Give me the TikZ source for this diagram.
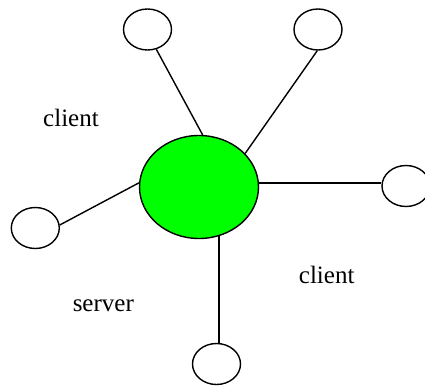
\documentclass[tikz,border=0pt]{standalone}
\usepackage{fontspec}
\setmainfont{Liberation Serif}
\newfontfamily\labelfont{Liberation Serif}
\usetikzlibrary{shapes.geometric}
\definecolor{netgreen}{RGB}{0,255,0}
\begin{document}
\begin{tikzpicture}[x=1pt,y=-1pt,
  host/.style={ellipse,draw=black,line width=1.4pt,inner sep=0pt,
    minimum width=48pt,minimum height=41pt,fill=white},
  hub/.style={ellipse,draw=black,line width=1.4pt,inner sep=0pt,
    minimum width=119pt,minimum height=103pt,fill=netgreen},
  link/.style={draw=black,line width=1.4pt},
  caption/.style={anchor=base,inner sep=0pt,font=\labelfont\fontsize{25}{29}\selectfont}]
  \fill[white] (0,0) rectangle (425,385);
  \useasboundingbox (0,0) rectangle (425,385);
  \clip (0,0) rectangle (425,385);

  % server in the middle, clients around it
  \node[hub]  (srv) at (199,187)   {};
  \node[host] (tl)  at (147.5,29.5) {};
  \node[host] (tr)  at (318,29.5)  {};
  \node[host] (rt)  at (406,186)   {};
  \node[host] (lf)  at (35.3,228)  {};
  \node[host] (bt)  at (216.5,364) {};

  % links between the server and its clients
  \draw[link] (tl.-66) -- (srv.86);
  \draw[link] (tr.-92) -- (srv.36);
  \draw[link] (srv.4) -- (srv.4 -| rt.west);
  \draw[link] (lf.7) -- (srv.176.5);
  \draw[link] (srv.-68) -- (srv.-68 |- bt.north);

  % labels
  \node[caption] (c1) at (71,126)    {client};
  \node[caption] (c2) at (326.7,283) {client};
  \node[caption] (sv) at (103.3,311.7) {server};
\end{tikzpicture}
\end{document}
